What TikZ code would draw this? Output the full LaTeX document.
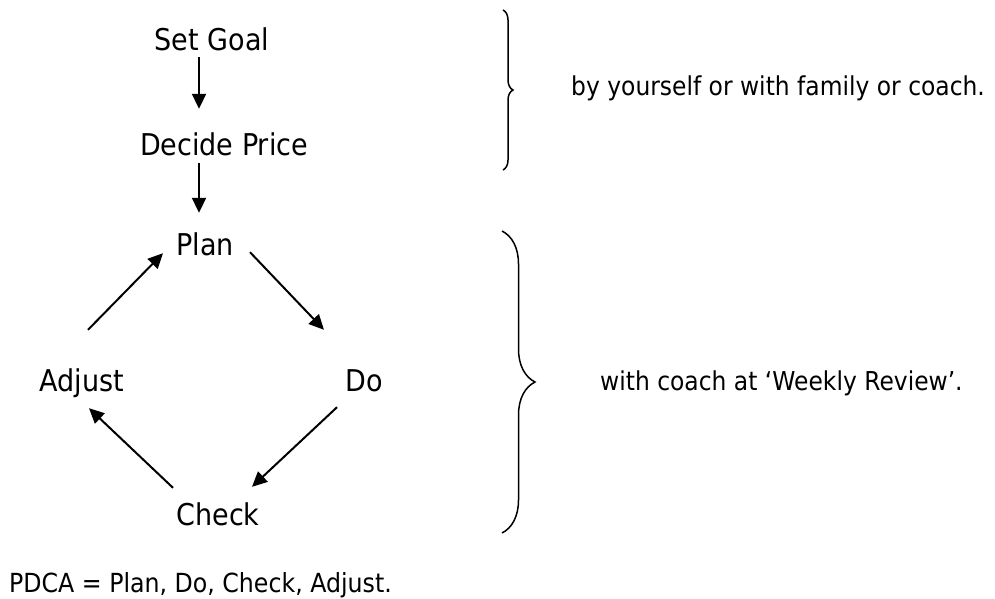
\documentclass[tikz,border=0pt]{standalone}
\usepackage{fontspec}
\setmainfont[FakeStretch=0.9]{DejaVu Sans}
\usepackage{tikz}
\usetikzlibrary{arrows.meta}
\usetikzlibrary{decorations.pathreplacing}

\tikzset{
    step label/.style={anchor=base, inner sep=0pt, text height=22pt, text depth=7pt,
        font=\fontsize{30}{36}\selectfont},
    side label/.style={anchor=base west, inner sep=0pt, font=\fontsize{26}{32}\selectfont},
    flow/.style={line width=2pt, -{Triangle[length=15pt, width=14pt]}},
    group brace/.style={line width=1.5pt, decorate, decoration={brace, amplitude=#1}},
}

\begin{document}
\begin{tikzpicture}[x=1pt, y=-1pt]
    \useasboundingbox (0,0) rectangle (995,598);

    % Goal setting
    \node[step label] (goal) at (212,50) {Set Goal};
    \node[step label] (price) at (224,155) {Decide Price};

    % PDCA cycle
    \node[step label] (plan) at (205,255) {Plan};
    \node[step label] (adjust) at (82,391) {Adjust};
    \node[step label] (do) at (364,391) {Do};
    \node[step label] (check) at (218,525) {Check};

    \draw[flow] ([xshift=-13pt]goal.south) -- ([shift={(-25,-24)}]price.north);
    \draw[flow] ([shift={(-25,1)}]price.south) -- ([shift={(-6,-20)}]plan.north);
    \draw[flow] ([shift={(6,-39)}]adjust.north) -- ([shift={(-42,-9)}]plan.south);
    \draw[flow] ([shift={(45,-10)}]plan.south) -- ([shift={(-40,-39)}]do.north);
    \draw[flow] ([shift={(-27,9)}]do.south) -- ([shift={(34,-16)}]check.north);
    \draw[flow] ([shift={(-45,-15)}]check.north) -- ([shift={(7,10)}]adjust.south);

    % Braces
    \draw[group brace=10pt] (503,10) -- (503,170);
    \draw[group brace=33pt] (502,231) -- (502,533);
    \node[side label] (who) at (571,95) {by yourself or with family or coach.};
    \node[side label] (when) at (600,390) {with coach at ‘Weekly Review’.};

    % Footnote
    \node[side label, font=\fontsize{26.3}{32}\selectfont] (pdca) at (9,592) {PDCA = Plan, Do, Check, Adjust.};
\end{tikzpicture}
\end{document}
